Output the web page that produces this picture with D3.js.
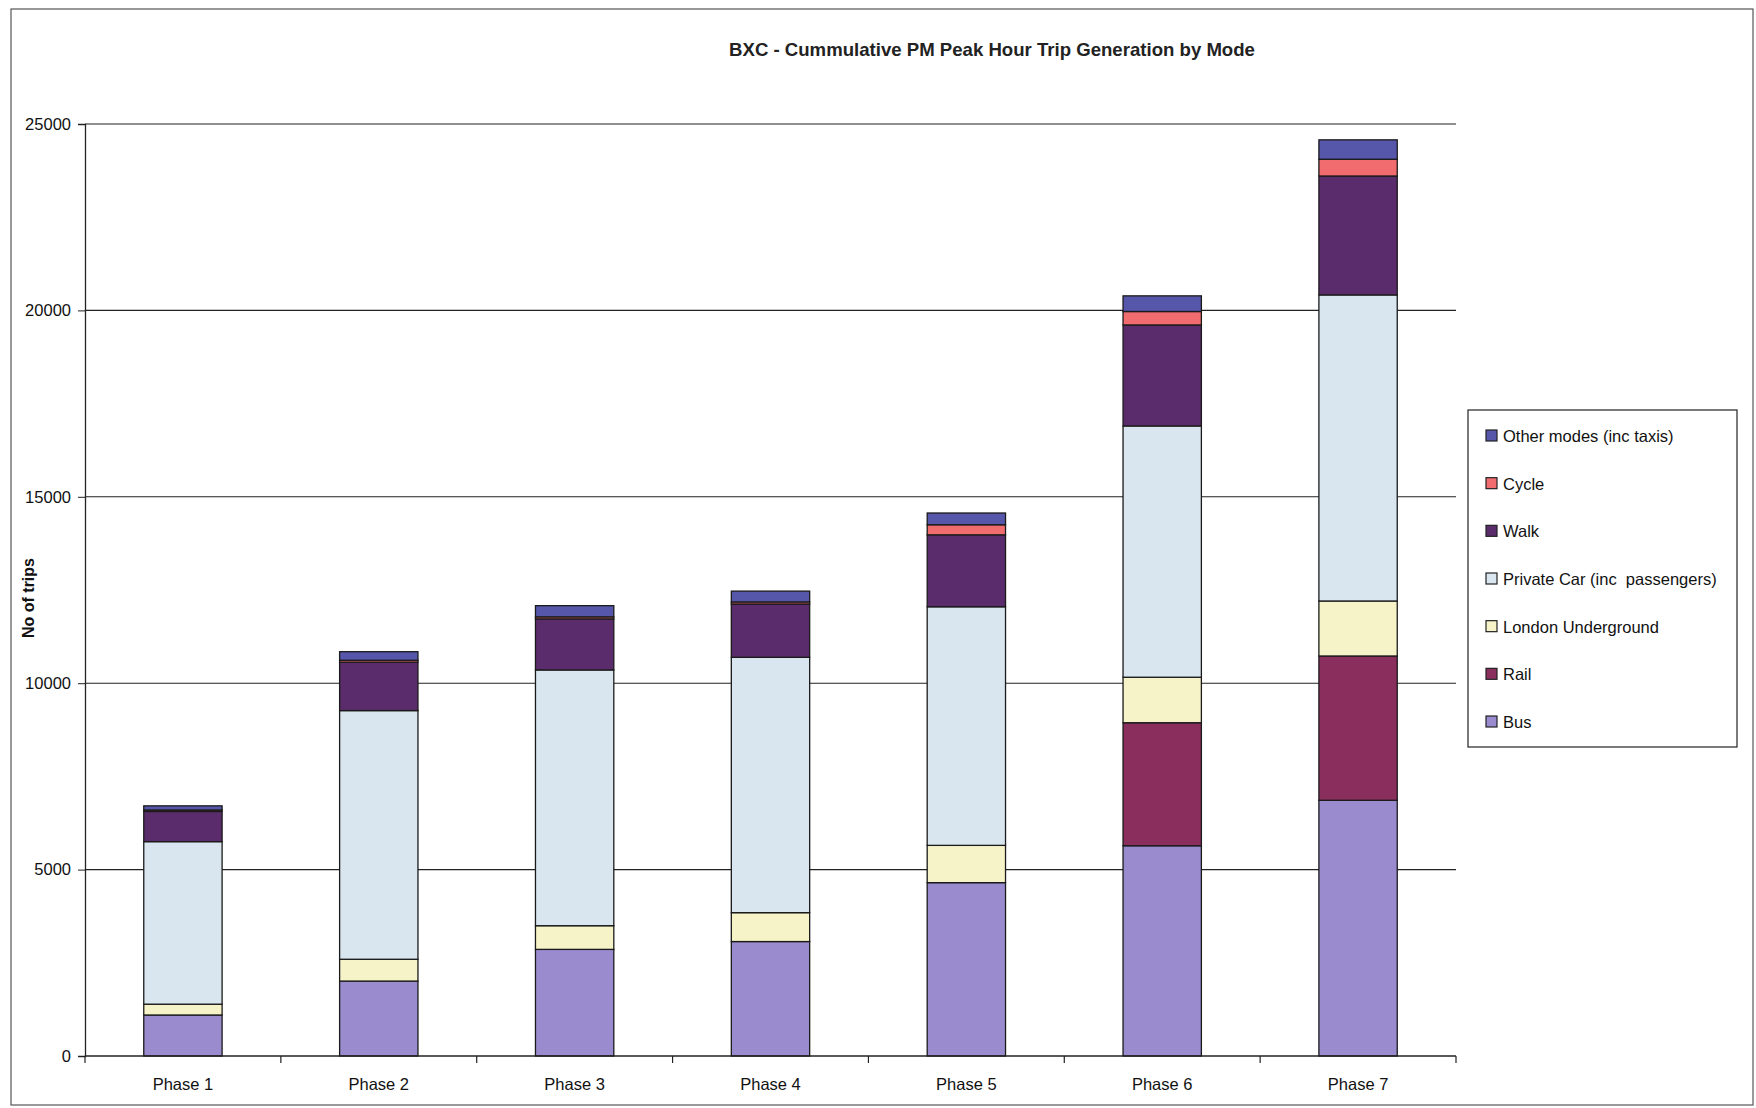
<!DOCTYPE html>
<html>
<head>
<meta charset="utf-8">
<script src="https://cdn.jsdelivr.net/npm/d3@7/dist/d3.min.js"></script>
<style>
  html, body { margin: 0; padding: 0; background: #fff; }
  svg { display: block; font-family: "Liberation Sans", Arial, sans-serif; }
</style>
</head>
<body>
<svg id="chart" width="1756" height="1108"></svg>
<script>
// ---- data ----
const phases = ["Phase 1", "Phase 2", "Phase 3", "Phase 4", "Phase 5", "Phase 6", "Phase 7"];
const modes = ["Bus", "Rail", "London Underground", "Private Car (inc  passengers)", "Walk", "Cycle", "Other modes (inc taxis)"];
const bus    = [1100, 2010, 2860, 3070, 4650, 5640, 6860];
const rail   = [0, 0, 0, 0, 0, 3300, 3870];
const lu     = [290, 585, 635, 775, 1000, 1220, 1475];
const car    = [4360, 6670, 6860, 6850, 6400, 6740, 8210];
const walk   = [810, 1300, 1370, 1430, 1930, 2710, 3190];
const cycle  = [40, 50, 55, 55, 270, 360, 450];
const other  = [110, 230, 300, 290, 315, 420, 520];
const yTicks = [0, 5000, 10000, 15000, 20000, 25000];
const titleText = "BXC - Cummulative PM Peak Hour Trip Generation by Mode";
const yTitle = "No of trips";

const seriesValues = [bus, rail, lu, car, walk, cycle, other];
const colors = ["#9a8bcf", "#8a2f5d", "#f6f3c8", "#d9e6ef", "#5b2c6b", "#f06c6f", "#5656aa"];

// ---- layout ----
const plot = { left: 85, right: 1456, top: 124, bottom: 1056 };

const svg = d3.select("#chart");

// outer frame
svg.append("rect")
  .attr("x", 11).attr("y", 9).attr("width", 1742).attr("height", 1096)
  .attr("fill", "none").attr("stroke", "#555").attr("stroke-width", 1.2);

// scales
const x = d3.scaleBand().domain(phases).range([plot.left, plot.right])
  .paddingInner(0.6).paddingOuter(0.3);
const xStep = d3.scaleBand().domain(phases).range([plot.left, plot.right]).padding(0);
const y = d3.scaleLinear().domain([0, 25000]).range([plot.bottom, plot.top]);
const color = d3.scaleOrdinal().domain(modes).range(colors);

// gridlines
svg.append("g")
  .selectAll("line").data(yTicks.filter(d => d > 0)).join("line")
  .attr("x1", plot.left).attr("x2", plot.right)
  .attr("y1", d => y(d)).attr("y2", d => y(d))
  .attr("stroke", "#222").attr("stroke-width", 1.1);

// stacked data
const table = phases.map((p, i) => {
  const row = { phase: p };
  modes.forEach((m, k) => row[m] = seriesValues[k][i]);
  return row;
});
const stack = d3.stack().keys(modes)(table);

svg.append("g").selectAll("g").data(stack).join("g")
  .attr("fill", d => color(d.key))
  .selectAll("rect").data(d => d.filter(s => s[1] - s[0] > 0)).join("rect")
  .attr("x", d => x(d.data.phase))
  .attr("width", x.bandwidth())
  .attr("y", d => y(d[1]))
  .attr("height", d => y(d[0]) - y(d[1]))
  .attr("stroke", "#1a1a1a").attr("stroke-width", 1.3);

// y axis
const yAxis = d3.axisLeft(y).tickValues(yTicks).tickFormat(d3.format("d")).tickSizeOuter(0).tickSize(7).tickPadding(7);
const gy = svg.append("g").attr("transform", `translate(${plot.left},0)`).call(yAxis);
gy.select(".domain").attr("stroke", "#222").attr("stroke-width", 1.3);
gy.selectAll(".tick line").attr("stroke", "#222");
gy.selectAll("text").attr("font-size", 16.5).attr("fill", "#111")
  .attr("font-family", "'Liberation Sans', Arial, sans-serif");

// x axis
const gx = svg.append("g").attr("transform", `translate(0,${plot.bottom})`);
gx.append("line").attr("x1", plot.left).attr("x2", plot.right)
  .attr("y1", 0).attr("y2", 0).attr("stroke", "#222").attr("stroke-width", 1.3);
const boundaries = phases.map(p => xStep(p)).concat([plot.right]);
gx.selectAll("line.tk").data(boundaries).join("line").attr("class", "tk")
  .attr("x1", d => d).attr("x2", d => d).attr("y1", 0).attr("y2", 7)
  .attr("stroke", "#222").attr("stroke-width", 1.2);
gx.selectAll("text").data(phases).join("text")
  .attr("x", d => xStep(d) + xStep.bandwidth() / 2)
  .attr("y", 34)
  .attr("text-anchor", "middle")
  .attr("font-size", 16.5).attr("fill", "#111")
  .text(d => d);

// title
svg.append("text")
  .attr("x", 992).attr("y", 56)
  .attr("text-anchor", "middle")
  .attr("font-size", 18.6).attr("font-weight", "bold").attr("fill", "#222")
  .text(titleText);

// y title
svg.append("text")
  .attr("transform", `translate(34,${(plot.top + plot.bottom) / 2 + 8}) rotate(-90)`)
  .attr("text-anchor", "middle")
  .attr("font-size", 16).attr("font-weight", "bold").attr("fill", "#111")
  .text(yTitle);

// legend
const legend = svg.append("g");
legend.append("rect")
  .attr("x", 1468).attr("y", 410).attr("width", 269).attr("height", 337)
  .attr("fill", "#fff").attr("stroke", "#222").attr("stroke-width", 1.2);
const legendOrder = modes.slice().reverse();
const ly = d3.scalePoint().domain(legendOrder).range([436, 722]);
const items = legend.selectAll("g.item").data(legendOrder).join("g").attr("class", "item")
  .attr("transform", d => `translate(1486,${ly(d)})`);
items.append("rect")
  .attr("x", 0).attr("y", -6).attr("width", 11).attr("height", 11)
  .attr("fill", d => color(d)).attr("stroke", "#222").attr("stroke-width", 1.2);
items.append("text")
  .attr("x", 17).attr("y", 6)
  .attr("font-size", 16.5).attr("fill", "#111")
  .attr("xml:space", "preserve")
  .style("white-space", "pre")
  .text(d => d);
</script>
</body>
</html>
